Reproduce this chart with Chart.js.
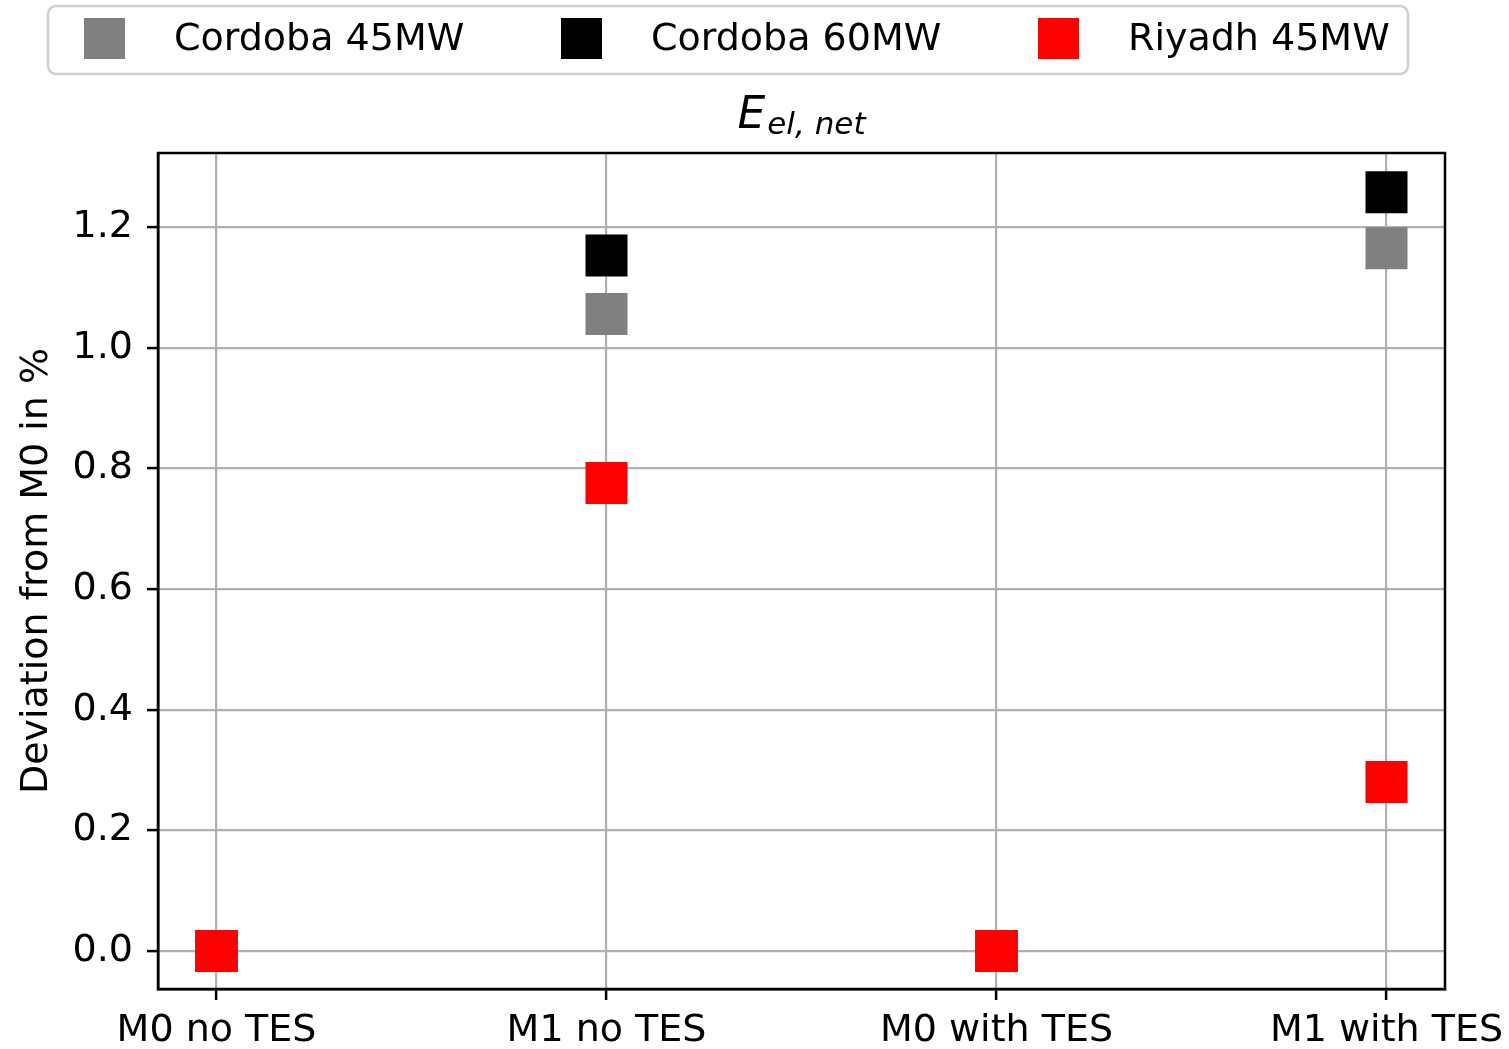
<!DOCTYPE html>
<html>
<head>
<meta charset="utf-8">
<script src="https://cdn.jsdelivr.net/npm/chart.js@4.4.1/dist/chart.umd.min.js"></script>
<style>
  html, body { margin: 0; padding: 0; background: #ffffff; }
  #wrap { width: 1509px; height: 1049px; position: relative; }
</style>
</head>
<body>
<div id="wrap"><canvas id="c" width="1509" height="1049"></canvas></div>
<script>
// Configurations along the x axis
const categories = ['M0 no TES', 'M1 no TES', 'M0 with TES', 'M1 with TES'];

// Deviation from M0 in % of net electricity yield
const cordoba45 = [0.0, 1.056, 0.0, 1.165];
const cordoba60 = [0.0, 1.153, 0.0, 1.258];
const riyadh45  = [0.0, 0.776, 0.0, 0.280];

const seriesNames  = ['Cordoba 45MW', 'Cordoba 60MW', 'Riyadh 45MW'];
const seriesColors = ['#808080', '#000000', '#ff0000'];
const yTicks = [0.0, 0.2, 0.4, 0.6, 0.8, 1.0, 1.2];

const FONT = 'DejaVu Sans';

function toPoints(vals) {
  return vals.map((v, i) => ({ x: i, y: v }));
}

// later series are painted over earlier ones
const datasets = [cordoba45, cordoba60, riyadh45].map((vals, k) => ({
  label: seriesNames[k],
  data: toPoints(vals),
  backgroundColor: seriesColors[k],
  borderColor: seriesColors[k],
  borderWidth: 0,
  pointStyle: 'rect',
  pointRadius: 29.7,
  pointHoverRadius: 29.7,
  showLine: false,
  order: 2 - k
}));

// Frame, legend box and mathtext-style title
const decorations = {
  id: 'decorations',
  afterDraw(chart) {
    const ctx = chart.ctx;
    const a = chart.chartArea;
    ctx.save();
    // full axes frame
    ctx.strokeStyle = '#000';
    ctx.lineWidth = 2.5;
    ctx.strokeRect(a.left, a.top, a.right - a.left, a.bottom - a.top);

    // legend box
    const bx = 48, by = 6, bw = 1360, bh = 68, r = 8;
    ctx.beginPath();
    ctx.moveTo(bx + r, by);
    ctx.arcTo(bx + bw, by, bx + bw, by + bh, r);
    ctx.arcTo(bx + bw, by + bh, bx, by + bh, r);
    ctx.arcTo(bx, by + bh, bx, by, r);
    ctx.arcTo(bx, by, bx + bw, by, r);
    ctx.closePath();
    ctx.fillStyle = 'rgba(255,255,255,0.9)';
    ctx.fill();
    ctx.strokeStyle = '#d0d0d0';
    ctx.lineWidth = 2.5;
    ctx.stroke();

    const startX = 84, stepX = 477;
    ctx.font = '38px "' + FONT + '"';
    ctx.textBaseline = 'middle';
    ctx.textAlign = 'left';
    chart.data.datasets.forEach((ds, k) => {
      const x = startX + k * stepX;
      ctx.fillStyle = ds.backgroundColor;
      ctx.fillRect(x, 18, 41, 41);
      ctx.fillStyle = '#000';
      ctx.fillText(ds.label, x + 90, 40);
    });

    // title E_{el, net}
    ctx.font = 'italic 44px "' + FONT + '"';
    const mainW = ctx.measureText('E').width;
    ctx.font = 'italic 31px "' + FONT + '"';
    const subW = ctx.measureText('el, net').width;
    const cx = (a.left + a.right) / 2;
    const x0 = cx - (mainW + subW + 2) / 2;
    ctx.textBaseline = 'alphabetic';
    ctx.fillStyle = '#000';
    ctx.font = 'italic 44px "' + FONT + '"';
    ctx.fillText('E', x0, 128);
    ctx.font = 'italic 31px "' + FONT + '"';
    ctx.fillText('el, net', x0 + mainW + 2, 134);
    ctx.restore();
  }
};

new Chart(document.getElementById('c'), {
  type: 'scatter',
  data: { datasets },
  options: {
    responsive: false,
    animation: false,
    devicePixelRatio: 1,
    layout: { padding: { top: 153, right: 64, left: 0, bottom: 0 } },
    plugins: {
      legend: { display: false },
      title: { display: false },
      tooltip: { enabled: false }
    },
    scales: {
      x: {
        type: 'linear',
        min: -0.15,
        max: 3.15,
        afterBuildTicks(scale) {
          scale.ticks = categories.map((_, i) => ({ value: i }));
        },
        afterFit(scale) {
          scale.height = 60;
          scale.paddingLeft = 0;
          scale.paddingRight = 0;
        },
        ticks: {
          callback: (v) => categories[v] ?? '',
          font: { family: FONT, size: 38 },
          color: '#000',
          padding: 8,
          maxRotation: 0,
          autoSkip: false
        },
        grid: {
          color: '#b0b0b0',
          lineWidth: 2.2,
          tickColor: '#000',
          tickLength: 11,
          tickWidth: 2.5
        },
        border: { color: '#000', width: 2.5 }
      },
      y: {
        type: 'linear',
        min: -0.063,
        max: 1.323,
        afterBuildTicks(scale) {
          scale.ticks = yTicks.map(v => ({ value: v }));
        },
        afterFit(scale) { scale.width = 158; },
        ticks: {
          callback: (v) => Number(v).toFixed(1),
          font: { family: FONT, size: 38 },
          color: '#000',
          padding: 14
        },
        grid: {
          color: '#b0b0b0',
          lineWidth: 2.2,
          tickColor: '#000',
          tickLength: 11,
          tickWidth: 2.5
        },
        border: { color: '#000', width: 2.5 },
        title: {
          display: true,
          text: 'Deviation from M0 in %',
          font: { family: FONT, size: 38 },
          color: '#000',
          padding: { top: 14, bottom: 0 }
        }
      }
    }
  },
  plugins: [decorations]
});
</script>
</body>
</html>
